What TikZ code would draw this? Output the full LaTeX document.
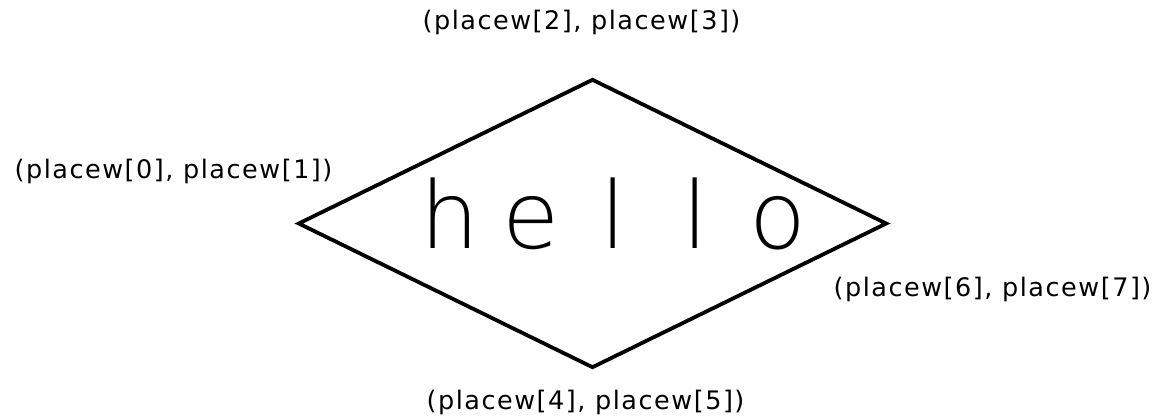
\documentclass[tikz,border=0pt]{standalone}
\usepackage{fontspec}
\usetikzlibrary{shapes.geometric}
\newfontfamily\labfont[LetterSpace=6]{DejaVu Sans}
\newfontfamily\wordfont{DejaVu Sans ExtraLight}
\newcommand{\wbox}[1]{\makebox[82pt]{#1}}

\begin{document}
\begin{tikzpicture}[
    x=1pt, y=-1pt,
    corner/.style={font=\labfont\fontsize{25.5}{28}\selectfont, inner sep=0pt},
    shapeline/.style={draw, line width=3.8pt, line join=miter}
]
\useasboundingbox (0,0) rectangle (1163,420);
\node[diamond, shapeline, minimum width=589pt, minimum height=289pt, inner sep=0pt] (gate) at (592.5,223.5) {};
\node[inner sep=0pt, anchor=base, font=\wordfont\fontsize{93}{100}\selectfont] (word) at (613.5,248)
    {\wbox{h}\wbox{e}\wbox{l}\wbox{l}\wbox{o}};

\node[corner] (p01) at (173.5,171) {(placew[0], placew[1])};
\node[corner] (p23) at (581.5,22.5) {(placew[2], placew[3])};
\node[corner] (p67) at (992.5,289) {(placew[6], placew[7])};
\node[corner] (p45) at (585.5,402) {(placew[4], placew[5])};
\end{tikzpicture}
\end{document}
